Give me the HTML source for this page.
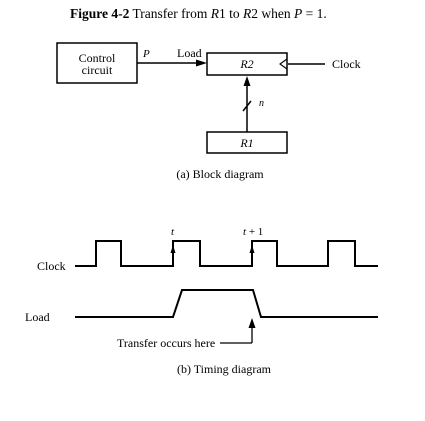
<!DOCTYPE html>
<html><head><meta charset="utf-8"><style>
html,body{margin:0;padding:0;background:#fff;}
svg{display:block;}
text{font-family:"Liberation Serif",serif;fill:#000;}
</style></head><body>
<svg width="425" height="421" viewBox="0 0 425 421" xmlns="http://www.w3.org/2000/svg">
<text x="70" y="18" font-size="13.5"><tspan font-weight="bold">Figure 4-2</tspan>   Transfer from <tspan font-style="italic">R</tspan>1 to <tspan font-style="italic">R</tspan>2 when <tspan font-style="italic">P</tspan> = 1.</text>
<g fill="none" stroke="#000" stroke-width="1.5">
<rect x="57" y="43" width="80" height="40"/>
<rect x="207" y="53" width="80" height="22"/>
<rect x="207" y="132" width="80" height="21"/>
<line x1="137" y1="63" x2="201" y2="63"/>
<line x1="288" y1="64" x2="325" y2="64"/>
<polyline points="287,59 280,64 287,69" stroke-width="1.1"/>
<line x1="247" y1="82" x2="247" y2="132"/>
<line x1="243" y1="111" x2="251" y2="101"/>
</g>
<polygon points="207,63 196,59.5 196,66.5" fill="#000"/>
<polygon points="247,76 243.5,86 250.5,86" fill="#000"/>
<text x="97" y="62" font-size="12" text-anchor="middle">Control</text>
<text x="97" y="74" font-size="12" text-anchor="middle">circuit</text>
<text x="143" y="57" font-size="11" font-style="italic" font-family="Liberation Sans">P</text>
<text x="177" y="57" font-size="12">Load</text>
<text x="247" y="68" font-size="12" text-anchor="middle" font-style="italic">R2</text>
<text x="247" y="147" font-size="12" text-anchor="middle" font-style="italic">R1</text>
<text x="259" y="106" font-size="10" font-style="italic">n</text>
<text x="332" y="68" font-size="12">Clock</text>
<text x="220" y="178" font-size="12" text-anchor="middle">(a) Block diagram</text>

<g fill="none" stroke="#000" stroke-width="2">
<polyline points="75,266 96,266 96,241 121,241 121,266 173,266 173,241 200,241 200,266 252,266 252,241 277,241 277,266 328,266 328,241 355,241 355,266 378,266"/>
<polyline points="75,317 173,317 182,290 253,290 261,317 378,317"/>
<line x1="252" y1="325" x2="252" y2="343" stroke-width="1.3"/>
<line x1="220" y1="343" x2="252" y2="343" stroke-width="1.3"/>
</g>
<polygon points="173,245 170.5,253 175.5,253" fill="#000"/>
<polygon points="252,245 249.5,253 254.5,253" fill="#000"/>
<polygon points="252,318 248.5,328 255.5,328" fill="#000"/>
<text x="171" y="235" font-size="11" font-style="italic">t</text>
<text x="243" y="235" font-size="11"><tspan font-style="italic">t</tspan> + 1</text>
<text x="37" y="270" font-size="12">Clock</text>
<text x="25" y="321" font-size="12">Load</text>
<text x="117" y="347" font-size="12">Transfer occurs here</text>
<text x="224" y="373" font-size="12" text-anchor="middle">(b) Timing diagram</text>
</svg>
</body></html>
